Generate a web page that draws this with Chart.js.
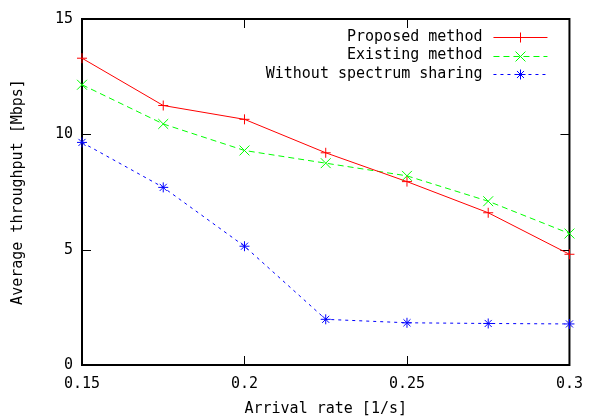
<!DOCTYPE html>
<html>
<head>
<meta charset="utf-8">
<script src="https://cdn.jsdelivr.net/npm/chart.js@4"></script>
<style>
  html, body { margin: 0; padding: 0; background: #fff; }
  #wrap { width: 593px; height: 419px; position: relative; }
</style>
</head>
<body>
<div id="wrap"><canvas id="throughputChart"></canvas></div>
<script>
// data
const arrivalRates = [0.15, 0.175, 0.2, 0.225, 0.25, 0.275, 0.3];
const proposed = [13.3, 11.25, 10.65, 9.2, 7.95, 6.6, 4.8];
const existing = [12.15, 10.45, 9.3, 8.75, 8.2, 7.1, 5.7];
const noSharing = [9.65, 7.7, 5.15, 1.98, 1.83, 1.8, 1.78];

const xTicks = [0.15, 0.2, 0.25, 0.3];
const xTickLabels = ['0.15', '0.2', '0.25', '0.3'];
const yTicks = [0, 5, 10, 15];

const FONT = '"DejaVu Sans Mono", "Liberation Mono", monospace';

function toPoints(ys) {
    return arrivalRates.map((x, i) => ({ x, y: ys[i] }));
}

const series = [
    { label: 'Proposed method', data: proposed, color: '#ff0000', dash: [], marker: 'cross', radius: 5 },
    { label: 'Existing method', data: existing, color: '#00ff00', dash: [6, 4], marker: 'crossRot', radius: 7 },
    { label: 'Without spectrum sharing', data: noSharing, color: '#0000ff', dash: [3, 4], marker: 'star', radius: 5 }
];

// small marker painter for the key
function drawMarker(ctx, kind, x, y, r) {
    ctx.beginPath();
    const d = r * Math.SQRT1_2;
    if (kind === 'cross' || kind === 'star') {
        ctx.moveTo(x - r, y); ctx.lineTo(x + r, y);
        ctx.moveTo(x, y - r); ctx.lineTo(x, y + r);
    }
    if (kind === 'crossRot' || kind === 'star') {
        const k = kind === 'star' ? d : r * Math.SQRT1_2;
        ctx.moveTo(x - k, y - k); ctx.lineTo(x + k, y + k);
        ctx.moveTo(x - k, y + k); ctx.lineTo(x + k, y - k);
    }
    ctx.stroke();
}

// frame + inward ticks on all four sides, gnuplot style
const framePlugin = {
    id: 'frame',
    beforeDatasetsDraw(chart) {
        const { ctx, chartArea: a, scales } = chart;
        const len = 9;
        ctx.save();
        ctx.strokeStyle = '#000';
        ctx.lineWidth = 1;
        ctx.beginPath();
        xTicks.forEach(v => {
            const px = Math.round(scales.x.getPixelForValue(v)) + 0.5;
            ctx.moveTo(px, a.bottom); ctx.lineTo(px, a.bottom - len);
            ctx.moveTo(px, a.top); ctx.lineTo(px, a.top + len);
        });
        yTicks.forEach(v => {
            const py = Math.round(scales.y.getPixelForValue(v)) + 0.5;
            ctx.moveTo(a.left, py); ctx.lineTo(a.left + len, py);
            ctx.moveTo(a.right, py); ctx.lineTo(a.right - len, py);
        });
        ctx.stroke();
        ctx.lineWidth = 2;
        ctx.strokeRect(a.left, a.top, a.right - a.left, a.bottom - a.top);
        ctx.restore();
    }
};

// key in the top right corner: text right-aligned, sample line to the right
const keyPlugin = {
    id: 'key',
    afterDatasetsDraw(chart) {
        const { ctx, chartArea: a } = chart;
        const lineEnd = a.right - 22;
        const lineStart = lineEnd - 54;
        const textRight = lineStart - 11;
        ctx.save();
        ctx.font = '15px ' + FONT;
        ctx.textAlign = 'right';
        ctx.textBaseline = 'middle';
        series.forEach((s, i) => {
            const y = a.top + 18 + i * 18.5;
            ctx.fillStyle = '#000';
            ctx.fillText(s.label, textRight, y);
            ctx.strokeStyle = s.color;
            ctx.lineWidth = 1;
            ctx.setLineDash(s.dash);
            ctx.beginPath();
            ctx.moveTo(lineStart, Math.round(y) + 0.5);
            ctx.lineTo(lineEnd, Math.round(y) + 0.5);
            ctx.stroke();
            ctx.setLineDash([]);
            drawMarker(ctx, s.marker, Math.round((lineStart + lineEnd) / 2) + 0.5, Math.round(y) + 0.5, s.radius);
        });
        ctx.restore();
    }
};

new Chart(document.getElementById('throughputChart'), {
    type: 'line',
    data: {
        datasets: series.map(s => ({
            label: s.label,
            data: toPoints(s.data),
            borderColor: s.color,
            backgroundColor: s.color,
            borderWidth: 1,
            borderDash: s.dash,
            pointStyle: s.marker,
            pointRadius: s.radius,
            pointBorderWidth: 1,
            pointBorderColor: s.color,
            tension: 0,
            clip: 12
        }))
    },
    options: {
        responsive: true,
        maintainAspectRatio: false,
        animation: false,
        layout: { padding: { left: 0, top: 19, right: 19, bottom: 0 } },
        plugins: {
            legend: { display: false },
            tooltip: { enabled: false }
        },
        scales: {
            x: {
                type: 'linear',
                min: 0.15,
                max: 0.3,
                afterBuildTicks: scale => { scale.ticks = xTicks.map(v => ({ value: v })); },
                afterFit: scale => { scale.height = 54; },
                grid: { display: false, drawTicks: false },
                border: { display: false },
                ticks: {
                    padding: 10,
                    color: '#000',
                    font: { family: FONT, size: 15 },
                    callback: (v) => xTickLabels[xTicks.indexOf(v)] ?? ''
                },
                title: {
                    display: true,
                    text: 'Arrival rate [1/s]',
                    color: '#000',
                    font: { family: FONT, size: 15 },
                    padding: { top: 0, bottom: 1 }
                }
            },
            y: {
                min: 0,
                max: 15,
                afterBuildTicks: scale => { scale.ticks = yTicks.map(v => ({ value: v })); },
                afterFit: scale => { scale.width = 82; },
                grid: { display: false, drawTicks: false },
                border: { display: false },
                ticks: {
                    padding: 9,
                    color: '#000',
                    font: { family: FONT, size: 15 }
                },
                title: {
                    display: true,
                    text: 'Average throughput [Mbps]',
                    color: '#000',
                    font: { family: FONT, size: 15 },
                    padding: { top: 9, bottom: 0 }
                }
            }
        }
    },
    plugins: [framePlugin, keyPlugin]
});
</script>
</body>
</html>
